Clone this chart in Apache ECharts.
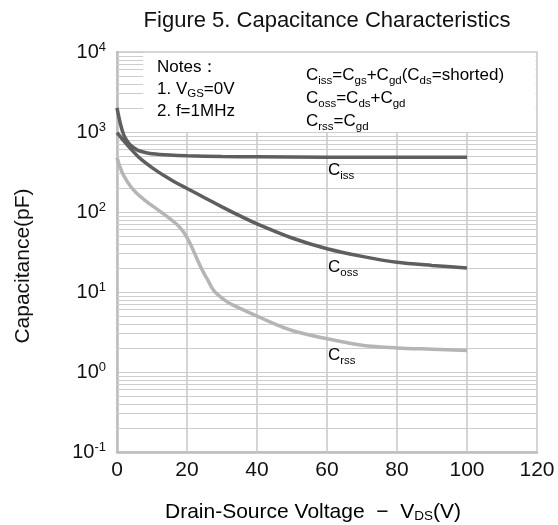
<!DOCTYPE html>
<html>
<head>
<meta charset="utf-8">
<script src="https://cdn.jsdelivr.net/npm/echarts@6/dist/echarts.min.js"></script>
<style>
  html, body { margin: 0; padding: 0; background: #fff; }
  #chart { width: 558px; height: 525px; }
</style>
</head>
<body>
<div id="chart"></div>
<script>
// 曲线数据
const cissV = [0, 1, 2, 3, 4, 6, 8, 10, 15, 20, 30, 40, 60, 80, 100];
const cissC = [2000, 1250, 900, 760, 675, 590, 555, 535, 515, 505, 495, 490, 484, 482, 482];

const cossV = [0, 2, 4, 6, 8, 10, 12, 14, 16, 18, 20, 25, 30, 35, 40, 50, 60, 70, 80, 90, 100];
const cossC = [980, 767, 610, 495, 417, 359, 313, 275, 244, 219, 197, 151, 116, 90, 71, 47.3, 34.7, 27.9, 23.5, 21.5, 20];

const crssV = [0, 1, 2, 4, 6, 8, 10, 13, 15, 17, 18, 19, 20, 21, 22, 23, 24, 25, 26, 27, 28, 30, 32, 35, 40, 45, 50, 55, 60, 70, 80, 90, 100];
const crssC = [480, 350, 280, 205, 165, 140, 120, 97, 83.5, 70.8, 63.8, 56.2, 47.9, 39.4, 31.6, 25.1, 20.2, 16.6, 14.0, 11.5, 10.0, 8.4, 7.3, 6.3, 5.0, 4.0, 3.3, 2.9, 2.6, 2.16, 2.0, 1.93, 1.86];

const xTicks = [0, 20, 40, 60, 80, 100, 120];
const yExponents = [-1, 0, 1, 2, 3, 4];

const FONT = 'Liberation Sans, Arial, sans-serif';
const DARK = '#5e5e5e';
const LIGHT = '#b5b5b5';
const GRID = '#cdcdcd';

// 对数轴次网格线 2..9 x 10^k (画在隐藏的线性指数轴上)
const minorExp = [];
for (let k = 0; k < yExponents.length - 1; k++) {
    for (let m = 2; m <= 9; m++) minorExp.push(yExponents[k] + Math.log10(m));
}
const hLines = minorExp.map(v => ({ yAxis: v }));
// 竖线只画到 10^3 (上面是注释框)
const vLines = xTicks.slice(1, -1).map(v => [{ coord: [v, yExponents[0]] }, { coord: [v, 3.0] }]);

function zip(xs, ys) { return xs.map((x, i) => [x, ys[i]]); }

const chart = echarts.init(document.getElementById('chart'));

const subRich = {
    n: { fontSize: 17, fontFamily: FONT, color: '#111', lineHeight: 23 },
    s: { fontSize: 11.5, fontFamily: FONT, color: '#111', verticalAlign: 'bottom', lineHeight: 14 }
};

const option = {
    animation: false,
    grid: { left: 117, right: 21, top: 52, bottom: 73, show: true, borderColor: '#c8c8c8', borderWidth: 1.5 },
    xAxis: {
        type: 'value', min: 0, max: 120, interval: 20,
        axisLine: { onZero: false, lineStyle: { color: '#bdbdbd', width: 2.5 } },
        axisTick: { show: false },
        axisLabel: { fontSize: 21, fontFamily: FONT, color: '#111', margin: 8 },
        splitLine: { show: false }
    },
    yAxis: [
        {
            type: 'log', logBase: 10, min: 0.1, max: 10000,
            axisLine: { show: true, lineStyle: { color: '#bdbdbd', width: 2.5 } },
            axisTick: { show: false },
            axisLabel: {
                margin: 11,
                formatter: function (v) { return '{b|10}{s|' + Math.round(Math.log10(v)) + '}'; },
                rich: {
                    b: { fontSize: 20, fontFamily: FONT, color: '#111', lineHeight: 22 },
                    s: { fontSize: 13, fontFamily: FONT, color: '#111', verticalAlign: 'top', lineHeight: 14 }
                }
            },
            splitLine: { show: true, lineStyle: { color: GRID, width: 1 } }
        },
        {
            type: 'value', min: yExponents[0], max: yExponents[yExponents.length - 1], show: false,
            splitLine: { show: false }
        }
    ],
    series: [
        {
            type: 'line', data: [], silent: true, yAxisIndex: 1,
            markLine: {
                silent: true, z: 1, symbol: ['none', 'none'], label: { show: false },
                lineStyle: { type: 'solid', color: GRID, width: 1 },
                data: hLines
            },
            markArea: {
                silent: true, z: 2,
                itemStyle: { color: '#ffffff' },
                data: [[{ xAxis: 7.5, yAxis: 3.004 }, { xAxis: 119.6, yAxis: 3.99 }]]
            }
        },
        {
            type: 'line', data: [], silent: true, yAxisIndex: 1,
            markLine: {
                silent: true, z: 1, symbol: ['none', 'none'], label: { show: false },
                lineStyle: { type: 'solid', color: '#cbcbcb', width: 1.6 },
                data: vLines
            }
        },
        { name: 'Ciss', type: 'line', z: 5, smooth: 0.3, showSymbol: false, data: zip(cissV, cissC), lineStyle: { color: DARK, width: 3.5 } },
        { name: 'Coss', type: 'line', z: 5, smooth: 0.3, showSymbol: false, data: zip(cossV, cossC), lineStyle: { color: DARK, width: 3.5 } },
        { name: 'Crss', type: 'line', z: 5, smooth: 0.3, showSymbol: false, data: zip(crssV, crssC), lineStyle: { color: LIGHT, width: 3.5 } }
    ],
    graphic: [
        { type: 'text', x: 327, y: 21, z: 10, style: { text: 'Figure 5. Capacitance Characteristics', font: '22px ' + FONT, fill: '#111', align: 'center', verticalAlign: 'middle' } },
        { type: 'text', x: 23, y: 266, rotation: Math.PI / 2, z: 10, style: { text: 'Capacitance(pF)', font: '21px ' + FONT, fill: '#111', align: 'center', verticalAlign: 'middle' } },
        { type: 'text', x: 165, y: 512, z: 10, style: { text: '{n|Drain-Source Voltage  \u2212  V}{s|DS}{n|(V)}', rich: { n: { fontSize: 21, fontFamily: FONT, color: '#111', lineHeight: 22 }, s: { fontSize: 13.5, fontFamily: FONT, color: '#111', verticalAlign: 'bottom', lineHeight: 15 } }, verticalAlign: 'middle' } },
        { type: 'text', x: 157, y: 56, z: 10, style: { text: '{n|Notes\uff1a}\n{n|1. V}{s|GS}{n|=0V}\n{n|2. f=1MHz}', rich: { n: Object.assign({}, subRich.n, { lineHeight: 22 }), s: Object.assign({}, subRich.s, { lineHeight: 13 }) }, verticalAlign: 'top' } },
        { type: 'text', x: 306, y: 64, z: 10, style: { text: '{n|C}{s|iss}{n|=C}{s|gs}{n|+C}{s|gd}{n|(C}{s|ds}{n|=shorted)}\n{n|C}{s|oss}{n|=C}{s|ds}{n|+C}{s|gd}\n{n|C}{s|rss}{n|=C}{s|gd}', rich: subRich, verticalAlign: 'top' } },
        { type: 'text', x: 328, y: 170, z: 10, style: { text: '{n|C}{s|iss}', rich: subRich, verticalAlign: 'middle' } },
        { type: 'text', x: 328, y: 267, z: 10, style: { text: '{n|C}{s|oss}', rich: subRich, verticalAlign: 'middle' } },
        { type: 'text', x: 328, y: 355, z: 10, style: { text: '{n|C}{s|rss}', rich: subRich, verticalAlign: 'middle' } }
    ]
};

chart.setOption(option);
</script>
</body>
</html>
